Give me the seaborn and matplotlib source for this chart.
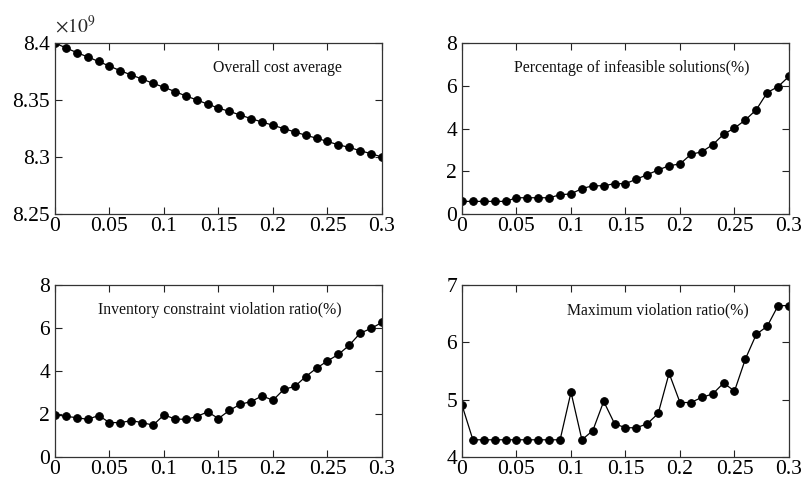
import numpy as np
import pandas as pd
import matplotlib
matplotlib.use("Agg")
import matplotlib.pyplot as plt
import seaborn as sns

x_vals = [round(0.01 * i, 2) for i in range(31)]

cost_avg = [8.4000, 8.3957, 8.3916, 8.3878, 8.3838, 8.3797, 8.3757, 8.3719, 8.3684, 8.3646,
            8.3612, 8.3574, 8.3536, 8.3501, 8.3464, 8.3429, 8.3400, 8.3368, 8.3336, 8.3307,
            8.3278, 8.3249, 8.3220, 8.3191, 8.3165, 8.3136, 8.3107, 8.3084, 8.3055, 8.3029,
            8.3000]
infeasible_pct = [0.59, 0.59, 0.59, 0.59, 0.59, 0.76, 0.76, 0.76, 0.76, 0.90,
                  0.94, 1.19, 1.32, 1.32, 1.42, 1.42, 1.63, 1.84, 2.06, 2.26,
                  2.34, 2.79, 2.91, 3.24, 3.73, 4.02, 4.40, 4.88, 5.68, 5.96,
                  6.44]
inventory_ratio = [1.97, 1.89, 1.83, 1.75, 1.93, 1.60, 1.60, 1.69, 1.60, 1.48,
                   1.96, 1.77, 1.75, 1.88, 2.10, 1.79, 2.17, 2.45, 2.58, 2.84,
                   2.64, 3.15, 3.28, 3.74, 4.13, 4.47, 4.77, 5.20, 5.76, 5.98,
                   6.26]
max_ratio = [4.905, 4.30, 4.30, 4.30, 4.30, 4.30, 4.30, 4.30, 4.30, 4.30,
             5.13, 4.30, 4.46, 4.97, 4.58, 4.51, 4.51, 4.58, 4.76, 5.46,
             4.95, 4.95, 5.04, 5.10, 5.29, 5.15, 5.71, 6.14, 6.28, 6.64,
             6.64]

titles = ["Overall cost average", "Percentage of infeasible solutions(%)",
          "Inventory constraint violation ratio(%)", "Maximum violation ratio(%)"]
x_ticks = [0, 0.05, 0.1, 0.15, 0.2, 0.25, 0.3]
x_ticklabels = ["0", "0.05", "0.1", "0.15", "0.2", "0.25", "0.3"]
y_ticks = [[8.25, 8.3, 8.35, 8.4], [0, 2, 4, 6, 8], [0, 2, 4, 6, 8], [4, 5, 6, 7]]
y_ticklabels = [["8.25", "8.3", "8.35", "8.4"], ["0", "2", "4", "6", "8"],
                ["0", "2", "4", "6", "8"], ["4", "5", "6", "7"]]
y_lims = [(8.25, 8.4), (0, 8), (0, 8), (4, 7)]

sns.set_style("ticks")
plt.rcParams["font.family"] = ["Liberation Serif", "DejaVu Serif"]
plt.rcParams["mathtext.fontset"] = "stix"

fig = plt.figure(figsize=(8.03, 4.84), dpi=100)
W, H = 803, 484
boxes = [(55, 43, 382, 214), (462, 43, 789, 214), (55, 285, 382, 457), (462, 285, 789, 457)]
series = [cost_avg, infeasible_pct, inventory_ratio, max_ratio]

for i, (box, ys) in enumerate(zip(boxes, series)):
    l, t, r, b = box
    ax = fig.add_axes([l / W, 1 - b / H, (r - l) / W, (b - t) / H])
    df = pd.DataFrame({"x": x_vals, "y": ys})
    sns.lineplot(data=df, x="x", y="y", ax=ax, color="black", linewidth=0.9,
                 marker="o", markersize=5.5, markeredgecolor="black",
                 markerfacecolor="black")
    ax.set_xlim(0, 0.3)
    ax.set_ylim(*y_lims[i])
    ax.set_xticks(x_ticks)
    ax.set_xticklabels(x_ticklabels)
    ax.set_yticks(y_ticks[i])
    ax.set_yticklabels(y_ticklabels[i])
    ax.set_xlabel("")
    ax.set_ylabel("")
    ax.tick_params(direction="in", length=5, width=0.8, labelsize=15.5,
                   top=True, right=True, colors="#222222", labelcolor="black")
    ax.tick_params(axis="x", pad=2)
    ax.tick_params(axis="y", pad=3.5)
    for sp in ax.spines.values():
        sp.set_visible(True)
        sp.set_linewidth(0.9)
        sp.set_color("#333333")
    ax.text(0.878, 0.855, titles[i], transform=ax.transAxes, ha="right", va="center",
            fontsize=11.3, color="#111111")
    if i == 0:
        ax.text(0.0, 1.035, r"$\times10^9$", transform=ax.transAxes, ha="left",
                va="bottom", fontsize=14)

fig.savefig("out.png", dpi=100)
